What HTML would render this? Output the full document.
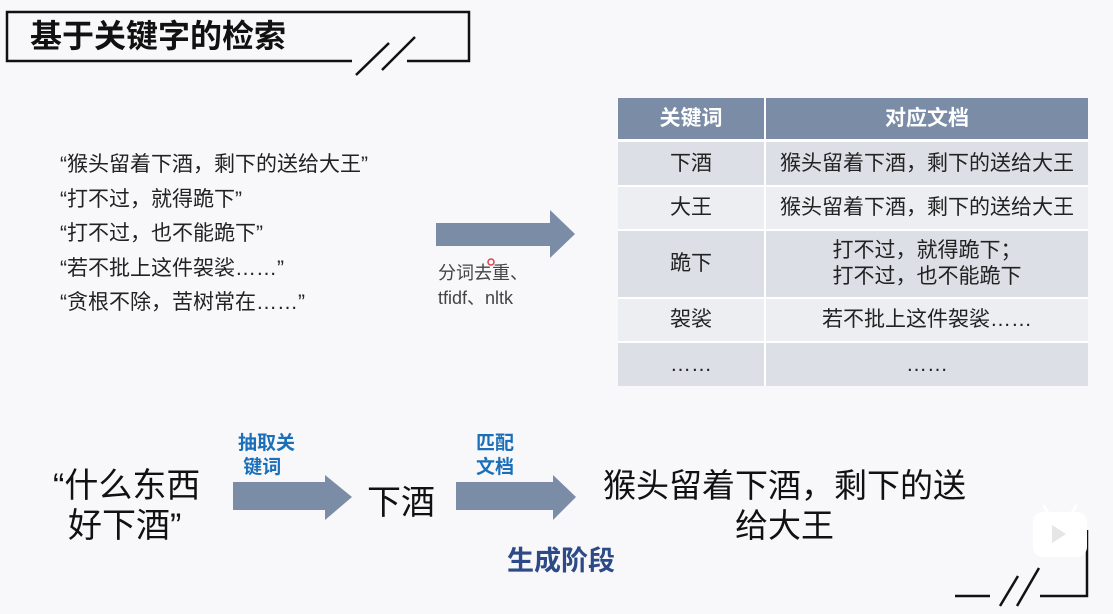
<!DOCTYPE html>
<html><head><meta charset="utf-8"><style>
*{margin:0;padding:0;box-sizing:border-box}
body{width:1113px;height:614px;background:#f8f8fa;position:relative;overflow:hidden;font-family:"Liberation Sans","Noto Sans CJK SC",sans-serif;color:#111}
.a{position:absolute;white-space:nowrap}
.cell{position:absolute;display:flex;align-items:center;justify-content:center;text-align:center;font-size:21px;color:#222;line-height:26px}
.blue{color:#1a6fb8;font-weight:bold;font-size:19px;line-height:24px}
</style></head><body>
<svg class="a" style="left:0;top:0" width="1113" height="614">
<polyline points="352,61 7,61 7,12 469,12 469,61 407,61" fill="none" stroke="#111" stroke-width="2.5"/>
<line x1="356" y1="75" x2="389" y2="43" stroke="#111" stroke-width="2.5"/>
<line x1="382" y1="70" x2="415" y2="37" stroke="#111" stroke-width="2.5"/>
<polygon points="436,223 550,223 550,210 575,234 550,258 550,246 436,246" fill="#7b8ca6"/>
<polygon points="233,482 325,482 325,475 352,497 325,520 325,510 233,510" fill="#7b8ca6"/>
<polygon points="456,482 553,482 553,475 576,497 553,520 553,510 456,510" fill="#7b8ca6"/>
<line x1="955" y1="596" x2="990" y2="596" stroke="#111" stroke-width="2.5"/>
<line x1="1000" y1="606" x2="1018" y2="576" stroke="#111" stroke-width="2.5"/>
<line x1="1017" y1="606" x2="1039" y2="568" stroke="#111" stroke-width="2.5"/>
<polyline points="1040,596 1087,596 1087,530" fill="none" stroke="#111" stroke-width="2.5"/>
<rect x="1033" y="512" width="54" height="45" rx="10" fill="#fff"/>
<line x1="1048" y1="512" x2="1043" y2="505" stroke="#fff" stroke-width="3"/>
<line x1="1072" y1="512" x2="1077" y2="505" stroke="#fff" stroke-width="3"/>
<polygon points="1052,525 1066,534 1052,543" fill="#e6e6e6"/>
<circle cx="491" cy="262" r="3" fill="#fff" stroke="#e04050" stroke-width="1.5"/>
</svg>
<div class="a" style="left:30px;top:14px;font-size:32px;font-weight:bold;line-height:44px">基于关键字的检索</div>
<div class="a" style="left:60px;top:148px;font-size:21px;line-height:34.5px;color:#222">“猴头留着下酒，剩下的送给大王”<br>“打不过，就得跪下”<br>“打不过，也不能跪下”<br>“若不批上这件袈裟……”<br>“贪根不除，苦树常在……”</div>
<div class="a" style="left:438px;top:261px;font-size:18px;line-height:25px;color:#444">分词去重、<br>tfidf、nltk</div>
<div style="position:absolute;left:618px;top:98px;width:470px;height:288px;background:#fff">
<div class="cell" style="left:0;top:0;width:146px;height:41px;background:#7b8ca6;color:#fff;font-weight:bold">关键词</div>
<div class="cell" style="left:148px;top:0;width:322px;height:41px;background:#7b8ca6;color:#fff;font-weight:bold">对应文档</div>
<div class="cell" style="left:0;top:44px;width:146px;height:43px;background:#dcdfe6">下酒</div>
<div class="cell" style="left:148px;top:44px;width:322px;height:43px;background:#dcdfe6">猴头留着下酒，剩下的送给大王</div>
<div class="cell" style="left:0;top:89px;width:146px;height:42px;background:#eceef2">大王</div>
<div class="cell" style="left:148px;top:89px;width:322px;height:42px;background:#eceef2">猴头留着下酒，剩下的送给大王</div>
<div class="cell" style="left:0;top:133px;width:146px;height:66px;background:#dcdfe6">跪下</div>
<div class="cell" style="left:148px;top:133px;width:322px;height:66px;background:#dcdfe6">打不过，就得跪下；<br>打不过，也不能跪下</div>
<div class="cell" style="left:0;top:201px;width:146px;height:42px;background:#eceef2">袈裟</div>
<div class="cell" style="left:148px;top:201px;width:322px;height:42px;background:#eceef2">若不批上这件袈裟……</div>
<div class="cell" style="left:0;top:245px;width:146px;height:43px;background:#dcdfe6">……</div>
<div class="cell" style="left:148px;top:245px;width:322px;height:43px;background:#dcdfe6">……</div>
</div>
<div class="a" style="left:53px;top:466px;font-size:34px;line-height:40px">“什么东西</div>
<div class="a" style="left:68px;top:506px;font-size:34px;line-height:40px">好下酒”</div>
<div class="a blue" style="left:238px;top:432px">抽取关<br>&nbsp;键词</div>
<div class="a blue" style="left:476px;top:432px">匹配<br>文档</div>
<div class="a" style="left:367px;top:483px;font-size:34px;line-height:40px">下酒</div>
<div class="a" style="left:603px;top:466px;font-size:33px;line-height:40px">猴头留着下酒，剩下的送</div>
<div class="a" style="left:735px;top:506px;font-size:33px;line-height:40px">给大王</div>
<div class="a" style="left:507px;top:543px;font-size:27px;font-weight:bold;color:#2e4a86;line-height:36px">生成阶段</div>
</body></html>
